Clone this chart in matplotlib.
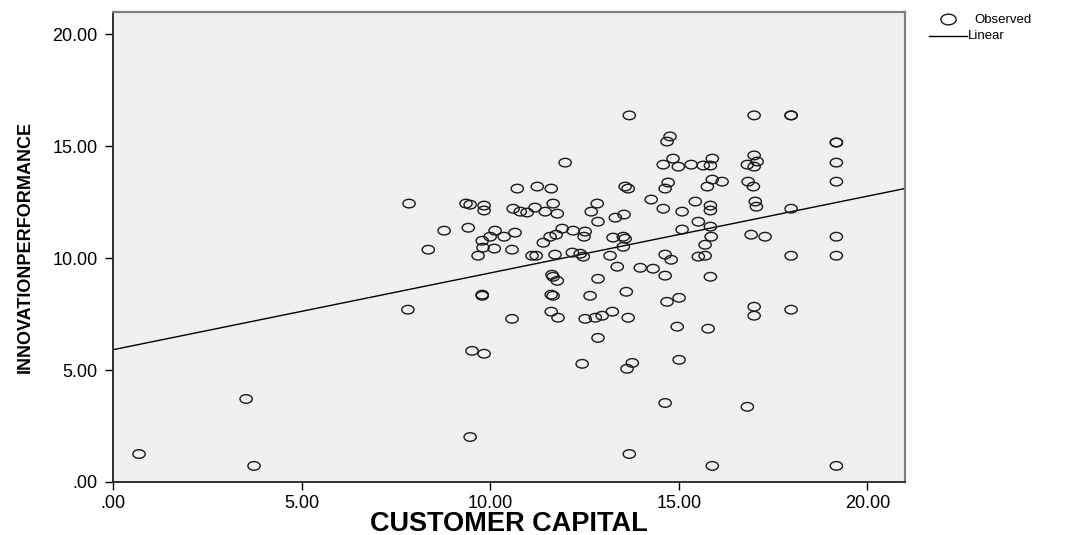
import numpy as np
import matplotlib
matplotlib.use("Agg")
import matplotlib.pyplot as plt
from matplotlib.path import Path
from matplotlib.lines import Line2D
from matplotlib.transforms import Affine2D
from matplotlib.ticker import FuncFormatter

plt.rcParams["font.family"] = ["Liberation Sans", "DejaVu Sans"]

# observed scores (customer capital, innovation performance)
customer_capital = [
    13.69, 17.00, 17.98, 17.98, 19.18, 19.18, 14.77, 14.69, 11.99, 14.85,
    14.59, 14.99, 15.33, 15.65, 15.84, 15.89, 17.00, 17.08, 16.82, 17.00,
    19.18, 19.18, 14.72, 14.64, 13.58, 13.66, 10.72, 11.25, 11.62, 15.89,
    16.15, 15.76, 16.84, 16.98, 7.85, 9.36, 9.47, 9.84, 9.84, 10.61,
    10.80, 10.98, 11.19, 11.46, 11.67, 11.78, 12.84, 12.68, 12.86, 13.32,
    13.55, 14.27, 14.59, 15.09, 15.44, 15.84, 15.84, 15.52, 15.84, 17.03,
    17.06, 17.98, 15.09, 19.18, 16.92, 17.29, 15.86, 15.70, 8.78, 9.42,
    10.13, 10.00, 9.79, 10.37, 10.66, 8.36, 9.81, 10.11, 9.68, 10.58,
    11.11, 11.22, 11.41, 11.59, 11.75, 11.91, 12.20, 12.52, 12.49, 13.26,
    13.53, 13.58, 13.53, 11.72, 12.18, 12.39, 12.47, 13.18, 14.64, 14.80,
    13.37, 13.98, 14.32, 14.64, 15.52, 15.70, 17.98, 19.18, 11.64, 11.67,
    11.78, 12.86, 15.84, 9.79, 9.79, 11.62, 11.67, 12.65, 13.61, 14.69,
    15.01, 11.62, 11.80, 12.52, 12.79, 12.97, 13.24, 13.66, 14.96, 15.78,
    17.00, 17.00, 17.98, 7.82, 10.58, 12.86, 12.44, 13.63, 13.77, 15.01,
    9.52, 9.84, 14.64, 16.82, 3.53, 0.69, 3.74, 9.47, 13.69, 15.89,
    19.18,
]
innovation_performance = [
    16.38, 16.38, 16.38, 16.38, 15.17, 15.17, 15.44, 15.21, 14.27, 14.45,
    14.18, 14.09, 14.18, 14.14, 14.14, 14.45, 14.59, 14.32, 14.18, 14.09,
    14.27, 13.42, 13.38, 13.11, 13.20, 13.11, 13.11, 13.20, 13.11, 13.51,
    13.42, 13.20, 13.42, 13.20, 12.44, 12.44, 12.39, 12.35, 12.13, 12.21,
    12.08, 12.04, 12.26, 12.08, 12.44, 11.99, 12.44, 12.08, 11.63, 11.81,
    11.95, 12.62, 12.21, 12.08, 12.53, 12.35, 12.13, 11.63, 11.41, 12.53,
    12.30, 12.21, 11.28, 10.96, 11.05, 10.96, 10.96, 10.60, 11.23, 11.36,
    11.23, 10.96, 10.78, 10.96, 11.14, 10.38, 10.47, 10.43, 10.11, 10.38,
    10.11, 10.11, 10.69, 10.96, 11.05, 11.32, 11.23, 11.19, 10.96, 10.92,
    10.96, 10.87, 10.51, 10.16, 10.25, 10.20, 10.07, 10.11, 10.16, 9.93,
    9.62, 9.57, 9.53, 9.22, 10.07, 10.11, 10.11, 10.11, 9.26, 9.17,
    8.99, 9.08, 9.17, 8.37, 8.32, 8.37, 8.32, 8.32, 8.50, 8.05,
    8.23, 7.61, 7.34, 7.29, 7.34, 7.43, 7.61, 7.34, 6.94, 6.85,
    7.83, 7.43, 7.70, 7.70, 7.29, 6.44, 5.28, 5.06, 5.32, 5.46,
    5.86, 5.73, 3.53, 3.36, 3.71, 1.25, 0.72, 2.01, 1.25, 0.72,
    0.72,
]

# linear fit line
fit_intercept = 5.91
fit_slope = 0.343

x_ticks = [0, 5, 10, 15, 20]
y_ticks = [0, 5, 10, 15, 20]
x_max, y_max = 21.0, 21.0
legend_labels = ["Observed", "Linear"]


def spss_fmt(v, pos=None):
    s = "%.2f" % v
    return s[1:] if s.startswith("0") else s


W, H = 1067, 535
fig = plt.figure(figsize=(W / 100, H / 100), dpi=100)
ax = fig.add_axes([113 / W, 53 / H, 792 / W, 470 / H])
ax.set_facecolor("#f0f0f0")

# circles look slightly flattened in the exported chart
ell = Path.unit_circle().transformed(Affine2D().scale(1.0, 0.7))
ax.scatter(customer_capital, innovation_performance, marker=ell, s=78,
           facecolors="none", edgecolors="#1a1a1a", linewidths=1.0, zorder=3)

xs = np.array([0, x_max])
ax.plot(xs, fit_intercept + fit_slope * xs, color="black", lw=1.0, zorder=2)

ax.set_xlim(0, x_max)
ax.set_ylim(0, y_max)
ax.set_xticks(x_ticks)
ax.set_yticks(y_ticks)
ax.xaxis.set_major_formatter(FuncFormatter(spss_fmt))
ax.yaxis.set_major_formatter(FuncFormatter(spss_fmt))
ax.tick_params(direction="out", length=6, width=1.0, labelsize=13, pad=3)
ax.tick_params(axis="y", pad=5)

for side in ("left", "bottom"):
    ax.spines[side].set_color("#222222")
    ax.spines[side].set_linewidth(1.3)
for side in ("top", "right"):
    ax.spines[side].set_color("#808080")
    ax.spines[side].set_linewidth(1.6)

ax.set_xlabel("CUSTOMER CAPITAL", fontsize=19.5, fontweight="bold", va="center")
ax.xaxis.set_label_coords(0.5, -0.089)
ax.set_ylabel("INNOVATIONPERFORMANCE", fontsize=13, fontweight="bold", va="center")
ax.yaxis.set_label_coords(-0.111, 0.5)

# legend outside the frame, drawn in pixel-based figure coordinates
def fx(px):
    return px / W


def fy(py):
    return 1 - py / H


fig.add_artist(Line2D([fx(948)], [fy(19)], marker=ell, markersize=11,
                      markerfacecolor="none", markeredgecolor="#1a1a1a",
                      markeredgewidth=1.0, linestyle="none"))
fig.add_artist(Line2D([fx(929), fx(967)], [fy(36), fy(36)], color="black", lw=1.0))
fig.text(fx(974), fy(20), legend_labels[0], fontsize=9.5, va="center", ha="left")
fig.text(fx(968), fy(36), legend_labels[1], fontsize=9.5, va="center", ha="left")

fig.savefig("out.png", dpi=100)
